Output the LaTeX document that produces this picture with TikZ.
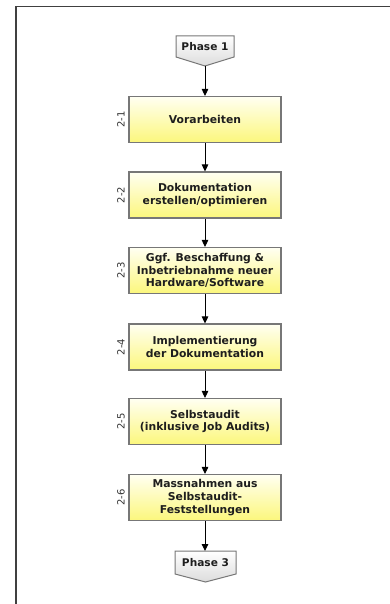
\documentclass[tikz,border=0pt]{standalone}
\usepackage{fontspec}
\setmainfont{DejaVu Sans}
\usetikzlibrary{arrows.meta}
\definecolor{boxedge}{HTML}{777777}
\definecolor{boxtop}{HTML}{FFFFF2}
\definecolor{boxbot}{HTML}{FCF77C}
\definecolor{phasetop}{HTML}{FFFFFF}
\definecolor{phasebot}{HTML}{DCDCDC}
\definecolor{framecol}{HTML}{404040}
\definecolor{idcol}{HTML}{333333}
\definecolor{labelcol}{HTML}{1E1E1E}
\tikzset{
  stepbox/.style={draw=boxedge, line width=1.1pt, top color=boxtop, bottom color=boxbot,
    minimum width=152pt, minimum height=46pt, inner sep=0pt, align=center,
    font=\fontsize{10.8}{12.7}\selectfont\bfseries, text=labelcol},
  phasetext/.style={inner sep=0pt, font=\fontsize{10.6}{12}\selectfont\bfseries, text=labelcol},
  phaseshape/.style={draw=boxedge, line width=1pt, top color=phasetop, bottom color=phasebot},
  stepid/.style={rotate=90, inner sep=0pt, font=\fontsize{10}{11}\selectfont, text=idcol},
  flow/.style={draw=black, line width=0.9pt, -{Triangle[length=7pt,width=6.5pt]}},
}
\begin{document}
\begin{tikzpicture}[x=1pt,y=-1pt]
  \useasboundingbox (0,0) rectangle (390,604);
  % page frame (top and left edges)
  \draw[framecol, line width=1.4pt] (390,6.5) -- (16,6.5) -- (16,604);

  % start marker
  \draw[phaseshape] (176,36) -- (234,36) -- (234,57) -- (205,66) -- (176,57) -- cycle;
  \node[phasetext] (p1) at (205,47) {Phase 1};
  \coordinate (p1tip) at (205,66);

  % process steps
  \node[stepbox] (s1) at (205,119.5) {Vorarbeiten};
  \node[stepbox] (s2) at (205,195) {Dokumentation\\erstellen/optimieren};
  \node[stepbox] (s3) at (205,270.5) {Ggf. Beschaffung \&\\Inbetriebnahme neuer\\Hardware/Software};
  \node[stepbox] (s4) at (205,347) {Implementierung\\der Dokumentation};
  \node[stepbox] (s5) at (205,421.5) {Selbstaudit\\(inklusive Job Audits)};
  \node[stepbox] (s6) at (205,497.5) {Massnahmen aus\\Selbstaudit-\\Feststellungen};

  % step numbers
  \node[stepid] (n1) at (121,119.5) {2-1};
  \node[stepid] (n2) at (121,195) {2-2};
  \node[stepid] (n3) at (121,270.5) {2-3};
  \node[stepid] (n4) at (121,347) {2-4};
  \node[stepid] (n5) at (121,421.5) {2-5};
  \node[stepid] (n6) at (121,497.5) {2-6};

  % end marker
  \draw[phaseshape] (175,551) -- (236,551) -- (236,574) -- (205.5,582) -- (175,574) -- cycle;
  \node[phasetext] (p3) at (205.5,563) {Phase 3};
  \coordinate (p3top) at (205,551);

  % connectors
  \draw[flow] (p1tip) -- (s1);
  \draw[flow] (s1) -- (s2);
  \draw[flow] (s2) -- (s3);
  \draw[flow] (s3) -- (s4);
  \draw[flow] (s4) -- (s5);
  \draw[flow] (s5) -- (s6);
  \draw[flow] (s6) -- (p3top);
\end{tikzpicture}
\end{document}
